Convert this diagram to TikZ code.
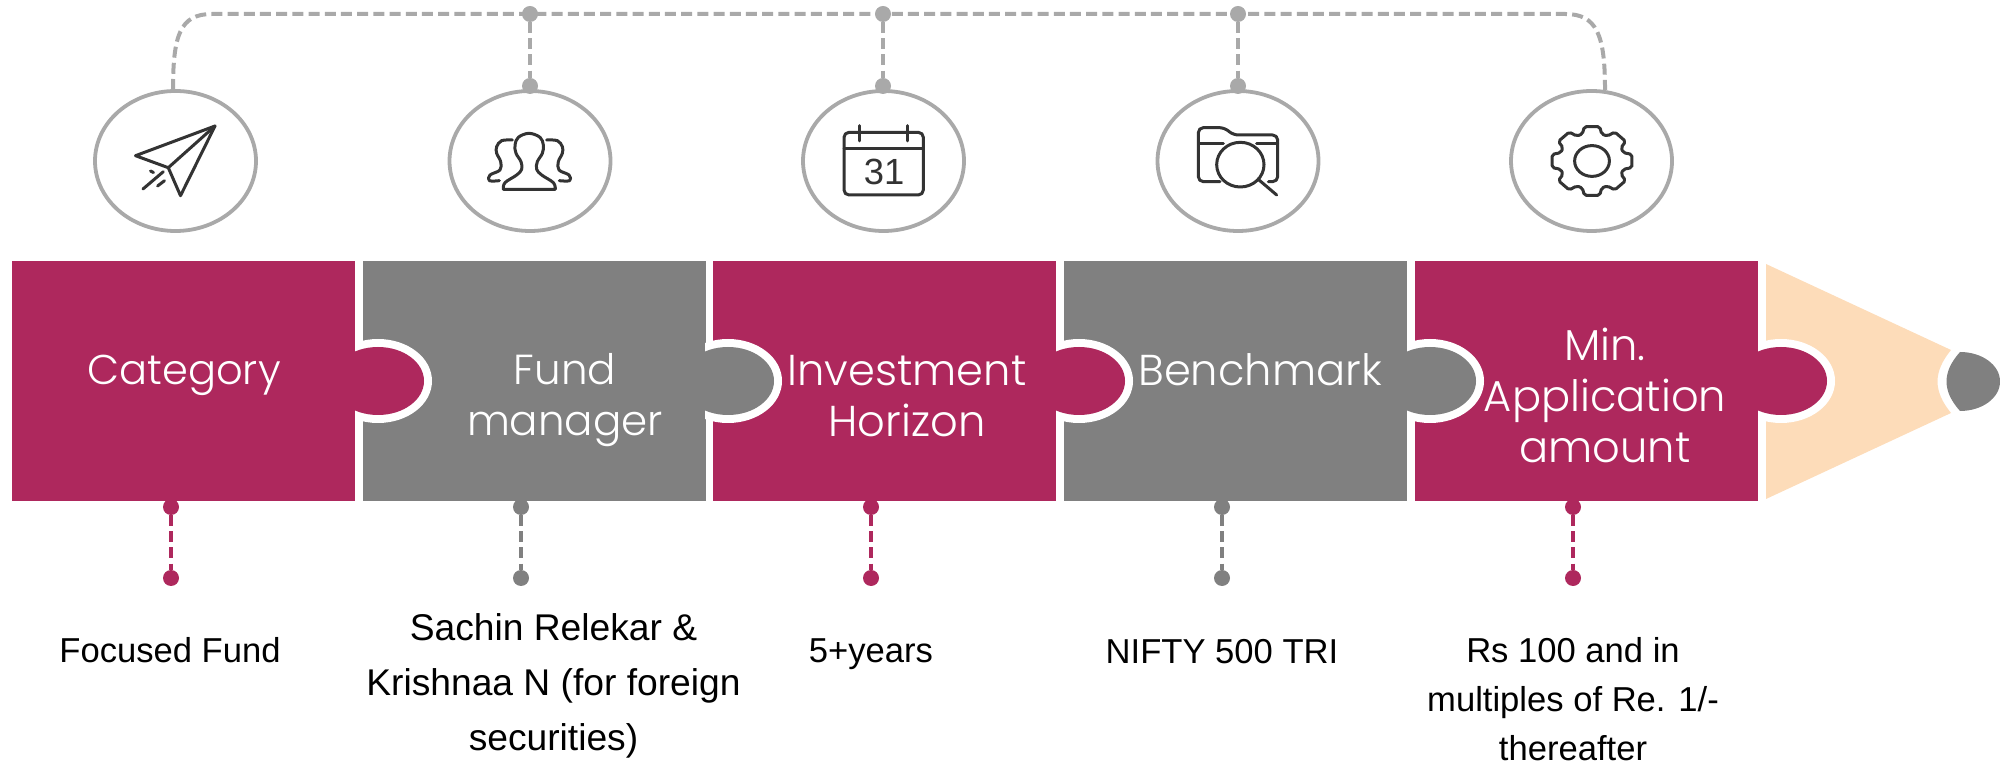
\documentclass[tikz,border=0pt]{standalone}
\usepackage{fontspec}
\setmainfont{Liberation Sans}
\newfontfamily\labelfont[UprightFont={* Light}]{Poppins}
\usetikzlibrary{shapes.geometric}
\definecolor{maroon}{HTML}{AE285D}
\definecolor{midgray}{HTML}{808080}
\definecolor{peach}{HTML}{FDDCB9}
\definecolor{ringgray}{HTML}{A9A9A9}
\definecolor{icondark}{HTML}{333333}
\tikzset{
  panel/.style={rectangle,draw=none,minimum width=171.5pt,minimum height=120pt,inner sep=0pt,outer sep=0pt},
  iconring/.style={ellipse,draw=ringgray,line width=1.9pt,fill=white,minimum width=80.5pt,minimum height=70pt,inner sep=0pt,outer sep=0pt},
  dotnode/.style={circle,fill=#1,draw=none,minimum size=8pt,inner sep=0pt,outer sep=0pt},
  dashlink/.style={draw=#1,line width=2pt,dash pattern=on 5.5pt off 2.6pt},
  paneltext/.style={text=white,font=\labelfont\fontsize{21.6}{25.5}\selectfont,align=center,inner sep=0pt},
  valuetext/.style={text=black,font=\fontsize{17.3}{27}\selectfont,align=center,inner sep=0pt},
  iconline/.style={draw=icondark,line width=1.5pt,line cap=round,line join=round},
}
\newcommand{\puzzletab}[2]{%
  \begin{scope}
    \clip (#1,320) rectangle (#1+100,440);
    \fill[white] (#1+23,381) ellipse [x radius=27pt,y radius=21pt];
    \fill[#2] (#1+23,381) ellipse [x radius=23pt,y radius=17pt];
  \end{scope}}
\begin{document}
\begin{tikzpicture}[x=0.5pt,y=-0.5pt]
\useasboundingbox (0,0) rectangle (2000,763);
% pencil body
\fill[peach] (1766,264) -- (1951,350) .. controls (1933,372) and (1933,391) .. (1951,413) -- (1766,499) -- cycle;
\fill[midgray] (1960,352) .. controls (1942,372) and (1942,391) .. (1960,411) .. controls (1982,411) and (2000,398) .. (2000,381.5) .. controls (2000,365) and (1982,352) .. (1960,352) -- cycle;
% panels
\node[panel,fill=maroon] (p1) at (183.5,381) {};
\node[panel,fill=midgray] (p2) at (534,381) {};
\node[panel,fill=maroon] (p3) at (884.5,381) {};
\node[panel,fill=midgray] (p4) at (1235.5,381) {};
\node[panel,fill=maroon] (p5) at (1586.5,381) {};
\puzzletab{355}{maroon}
\puzzletab{705}{midgray}
\puzzletab{1056}{maroon}
\puzzletab{1407}{midgray}
\puzzletab{1758}{maroon}
% panel labels
\node[paneltext,font=\labelfont\fontsize{20.8}{25.5}\selectfont] (l1) at (184,375) {Category};
\node[paneltext,font=\labelfont\fontsize{21}{25.5}\selectfont] (l2) at (565,400) {Fund\\manager};
\node[paneltext] (l3) at (907,396) {Investment\\Horizon};
\node[paneltext] (l4) at (1260,370) {Benchmark};
\node[paneltext] (l5) at (1605,395) {Min.\\Application\\amount};
% icon rings
\node[iconring] (r1) at (175.5,161) {};
\node[iconring] (r2) at (530,161) {};
\node[iconring] (r3) at (883.5,161) {};
\node[iconring] (r4) at (1238,161) {};
\node[iconring] (r5) at (1591.5,161) {};
% top connector
\coordinate (sl) at (173,90);
\coordinate (sr) at (1605,90);
\node[dotnode=ringgray] (t2) at (530,14) {};
\node[dotnode=ringgray] (t3) at (883,14) {};
\node[dotnode=ringgray] (t4) at (1238,14) {};
\node[dotnode=ringgray] (a2) at (530,86) {};
\node[dotnode=ringgray] (a3) at (883,86) {};
\node[dotnode=ringgray] (a4) at (1238,86) {};
\draw[dashlink=ringgray] (sl) .. controls (173,35) and (180,14) .. (212,14) -- (t2.center) -- (t3.center) -- (t4.center) -- (1565,14) .. controls (1597,14) and (1605,35) .. (sr);
\draw[dashlink=ringgray] (t2) -- (a2);
\draw[dashlink=ringgray] (t3) -- (a3);
\draw[dashlink=ringgray] (t4) -- (a4);
% bottom connectors
\node[dotnode=maroon] (u1) at (171,507) {};
\node[dotnode=maroon] (v1) at (171,578) {};
\node[dotnode=midgray] (u2) at (521,507) {};
\node[dotnode=midgray] (v2) at (521,578) {};
\node[dotnode=maroon] (u3) at (871,507) {};
\node[dotnode=maroon] (v3) at (871,578) {};
\node[dotnode=midgray] (u4) at (1222,507) {};
\node[dotnode=midgray] (v4) at (1222,578) {};
\node[dotnode=maroon] (u5) at (1573,507) {};
\node[dotnode=maroon] (v5) at (1573,578) {};
\draw[dashlink=maroon] (u1) -- (v1);
\draw[dashlink=midgray] (u2) -- (v2);
\draw[dashlink=maroon] (u3) -- (v3);
\draw[dashlink=midgray] (u4) -- (v4);
\draw[dashlink=maroon] (u5) -- (v5);
% values
\node[valuetext] (w1) at (170,650) {Focused Fund};
\node[valuetext,font=\fontsize{18.6}{27.5}\selectfont] (w2) at (553.5,686) {Sachin Relekar \&\\Krishnaa N (for foreign\\securities)};
\node[valuetext] (w3) at (871,654) {5+years};
\node[valuetext] (w4) at (1222,652) {NIFTY 500 TRI};
\node[valuetext,font=\fontsize{17.3}{24.5}\selectfont] (w5) at (1573,699) {Rs 100 and in\\multiples of Re. 1/-\\thereafter};
% plane
\begin{scope}[iconline]
\draw (215,126) -- (135.5,155.7) -- (168.3,167.7) -- (180.5,195.7) -- cycle;
\draw (168.3,167.7) -- (215,126);
\draw (143,189) -- (163.3,171.7);
\draw (150.5,171) -- (153.5,172.5);
\draw (157.6,186) -- (164.5,180.7);
\end{scope}
% people
\begin{scope}[shift={(480,120)},scale=1/3,iconline]
\draw plot[smooth,tension=0.6] coordinates {(70,208) (75,188) (110,165) (125,148) (123,125) (108,100) (105,75) (115,52) (147,40) (180,52) (190,75) (187,100) (172,125) (170,148) (185,165) (220,188) (226,208)} -- cycle;
\draw plot[smooth,tension=0.6] coordinates {(97,60) (65,62) (50,80) (50,100) (62,125) (60,150) (30,165) (28,182) (58,182)};
\draw plot[smooth,tension=0.6] coordinates {(200,60) (232,62) (247,80) (247,100) (235,125) (237,150) (267,165) (269,182) (238,182)};
\end{scope}
% calendar
\begin{scope}[shift={(830,115)},scale=1/3,iconline]
\draw[rounded corners=2.5pt] (42,52) rectangle (280,240);
\draw (42,100) -- (280,100);
\draw (88,32) -- (88,78);
\draw (233,32) -- (233,78);
\node[text=icondark,font=\fontsize{18.2}{20}\selectfont,inner sep=0pt] (cal) at (162,172) {31};
\end{scope}
% folder
\begin{scope}[shift={(1185,115)},scale=1/3,iconline]
\draw[rounded corners=2.5pt] (105,200) -- (40,200) -- (40,38) -- (118,38) -- (145,60) -- (278,60) -- (278,200) -- (250,200);
\draw (42,85) -- (115,85);
\draw (215,85) -- (278,85);
\draw (166,149) ellipse [x radius=35.5pt,y radius=33.5pt];
\draw (222,195) -- (275,240);
\end{scope}
% gear
\begin{scope}[shift={(1592,161)},iconline]
\draw (0,0) ellipse [x radius=8.7pt,y radius=7.7pt];
\draw[rounded corners=1pt] (-11:20.3pt and 17.5pt)
  \foreach \k in {0,45,...,315}{
    -- ({\k-11}:20.3pt and 17.5pt) -- ({\k+11}:20.3pt and 17.5pt)
    -- ({\k+17}:16.4pt and 14.1pt) -- ({\k+28}:16.4pt and 14.1pt)
  } -- cycle;
\end{scope}
\end{tikzpicture}
\end{document}
